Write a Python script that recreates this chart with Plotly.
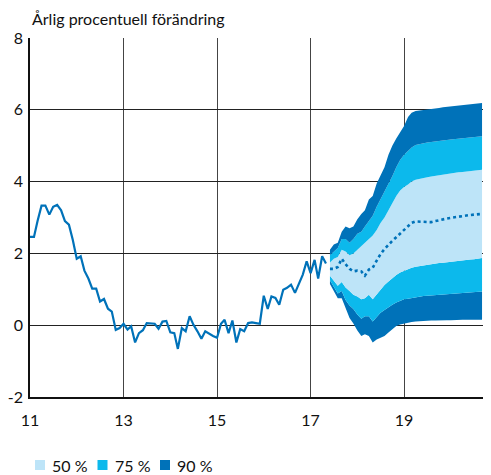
import pandas as pd
import plotly.graph_objects as go

# KPI, annual % change, monthly outcomes Jan 2011 - May 2017
kpi = [2.46, 2.46, 2.9, 3.33, 3.33, 3.08, 3.3, 3.35, 3.2, 2.9, 2.8, 2.38,
       1.85, 1.92, 1.52, 1.3, 1.02, 1.02, 0.66, 0.73, 0.46, 0.38, -0.13, -0.08,
       0.04, -0.12, -0.03, -0.48, -0.22, -0.14, 0.06, 0.06, 0.04, -0.1, 0.1, 0.12,
       -0.2, -0.22, -0.66, -0.08, -0.17, 0.25, 0.01, -0.17, -0.38, -0.17, -0.24, -0.3,
       -0.35, 0.04, 0.15, -0.22, 0.13, -0.48, -0.11, -0.17, 0.06, 0.08, 0.06, 0.04,
       0.82, 0.45, 0.8, 0.76, 0.57, 0.99, 1.04, 1.13, 0.9, 1.15, 1.41, 1.78,
       1.45, 1.82, 1.3, 1.92, 1.72]

# forecast Jun 2017 - Sep 2020: median and uncertainty bands
median = [1.57, 1.57, 1.62, 1.85, 1.7, 1.57, 1.5, 1.52, 1.5, 1.38,
          1.55, 1.6, 1.8, 1.98, 2.12, 2.25, 2.35, 2.45, 2.55, 2.68,
          2.78, 2.85, 2.89, 2.88, 2.87, 2.86, 2.87, 2.9, 2.93, 2.95,
          2.97, 2.99, 3.01, 3.03, 3.05, 3.06, 3.07, 3.08, 3.09, 3.1]
u90 = [2.1, 2.25, 2.3, 2.6, 2.75, 2.7, 2.75, 2.95, 3.1, 3.2,
       3.5, 3.6, 3.95, 4.15, 4.4, 4.75, 5.0, 5.2, 5.38, 5.55,
       5.8, 5.92, 5.97, 5.98, 5.99, 6.0, 6.02, 6.04, 6.05, 6.07,
       6.08, 6.1, 6.11, 6.13, 6.14, 6.15, 6.16, 6.17, 6.18, 6.19]
u75 = [1.95, 2.05, 2.15, 2.4, 2.4, 2.3, 2.4, 2.55, 2.6, 2.75,
       2.9, 3.05, 3.3, 3.5, 3.72, 3.95, 4.15, 4.4, 4.6, 4.75,
       4.87, 4.95, 5.02, 5.05, 5.07, 5.09, 5.1, 5.12, 5.14, 5.15,
       5.16, 5.17, 5.18, 5.19, 5.2, 5.21, 5.22, 5.23, 5.24, 5.26]
u50 = [1.75, 1.85, 1.9, 2.1, 2.05, 1.95, 2.0, 2.1, 2.2, 2.3,
       2.4, 2.5, 2.65, 2.85, 3.0, 3.2, 3.4, 3.6, 3.75, 3.85,
       3.92, 4.0, 4.05, 4.08, 4.1, 4.12, 4.14, 4.16, 4.18, 4.2,
       4.21, 4.23, 4.24, 4.26, 4.27, 4.28, 4.3, 4.31, 4.32, 4.33]
l50 = [1.38, 1.25, 1.1, 1.2, 1.05, 0.95, 0.85, 0.8, 0.72, 0.75,
       0.85, 0.72, 0.85, 1.0, 1.12, 1.22, 1.32, 1.4, 1.47, 1.52,
       1.56, 1.6, 1.63, 1.65, 1.67, 1.68, 1.7, 1.71, 1.73, 1.74,
       1.75, 1.77, 1.78, 1.79, 1.8, 1.82, 1.83, 1.84, 1.86, 1.87]
l75 = [1.25, 1.05, 0.88, 0.95, 0.7, 0.55, 0.45, 0.3, 0.18, 0.25,
       0.25, 0.1, 0.22, 0.35, 0.42, 0.5, 0.57, 0.63, 0.68, 0.72,
       0.74, 0.76, 0.78, 0.8, 0.81, 0.82, 0.83, 0.84, 0.85, 0.86,
       0.87, 0.88, 0.89, 0.9, 0.9, 0.91, 0.92, 0.93, 0.93, 0.94]
l90 = [1.15, 0.95, 0.75, 0.75, 0.45, 0.2, 0.05, -0.15, -0.3, -0.25,
       -0.3, -0.48, -0.4, -0.35, -0.3, -0.2, -0.1, -0.02, 0.02, 0.05,
       0.07, 0.09, 0.1, 0.11, 0.12, 0.12, 0.13, 0.13, 0.14, 0.14,
       0.14, 0.14, 0.15, 0.15, 0.15, 0.15, 0.15, 0.15, 0.15, 0.15]

band_names = ['50 %', '75 %', '90 %']
y_ticks = [-2, 0, 2, 4, 6, 8]
y_labels = ['-2', '0', '2', '4', '6', '8']
DARK = '#0072b9'
MID = '#0cb9ec'
LIGHT = '#bde4f8'
FONT = 'Lato'

W, H = 491, 475
# page body has an 8px margin, so the figure is laid out 8px up/left
ML, MR, MT, MB = 22, 8, 30, 86
PW, PH = W - ML - MR, H - MT - MB


def px_x(px):
    return (px - ML) / PW


def px_y(py):
    return (H - MB - py) / PH


hist_x = pd.date_range('2011-01-01', periods=len(kpi), freq='MS')
fc_x = pd.date_range('2017-06-01', periods=len(median), freq='MS')

fig = go.Figure()

# fan: stacked fills from the lowest bound upwards
layers = [(l90, None), (l75, DARK), (l50, MID), (u50, LIGHT), (u75, MID), (u90, DARK)]
for ys, col in layers:
    fig.add_trace(go.Scatter(x=fc_x, y=ys, mode='lines', line=dict(width=0),
                             fill='tonexty' if col else None, fillcolor=col,
                             showlegend=False, hoverinfo='skip'))

fig.add_trace(go.Scatter(x=fc_x, y=median, mode='lines',
                         line=dict(color=DARK, width=2.6, dash='dot'), showlegend=False))
fig.add_trace(go.Scatter(x=hist_x, y=kpi, mode='lines',
                         line=dict(color=DARK, width=2.2), showlegend=False))

# legend drawn by hand: small squares + labels below the chart
shapes, annots = [], []
for i, (name, col) in enumerate(zip(band_names, [LIGHT, MID, DARK])):
    x0 = 27 + i * 62.5
    shapes.append(dict(type='rect', xref='paper', yref='paper',
                       x0=px_x(x0), x1=px_x(x0 + 10), y0=px_y(462), y1=px_y(452),
                       fillcolor=col, line=dict(width=0)))
    annots.append(dict(text=name, xref='paper', yref='paper', x=px_x(x0 + 15), y=px_y(457),
                       xanchor='left', yanchor='middle', showarrow=False, font=dict(size=16)))

annots.append(dict(text='Årlig procentuell förändring', x=0, y=1.0, xref='paper', yref='paper',
                   xanchor='left', yanchor='bottom', yshift=8, showarrow=False,
                   font=dict(size=16)))

fig.update_layout(
    width=W, height=H,
    margin=dict(l=ML, r=MR, t=MT, b=MB, autoexpand=False),
    plot_bgcolor='white', paper_bgcolor='white',
    font=dict(family=FONT, size=16, color='#111'),
    showlegend=False,
    shapes=shapes,
    annotations=annots,
)
fig.update_xaxes(range=['2011-01-01', '2020-11-10'], tick0='2011-01-01', dtick='M24',
                 tickformat='%y', showgrid=True, gridcolor='#444', gridwidth=1,
                 showline=True, linecolor='#111', linewidth=1.5, ticks='', ticklabelstandoff=8,
                 automargin=False)
fig.update_yaxes(range=[-2, 8], tickvals=y_ticks, ticktext=y_labels,
                 showgrid=True, gridcolor='#222', gridwidth=1,
                 zeroline=False, showline=True, linecolor='#111', linewidth=1.5,
                 ticks='', ticklabelstandoff=2, automargin=False)

fig.write_html('out.html')
